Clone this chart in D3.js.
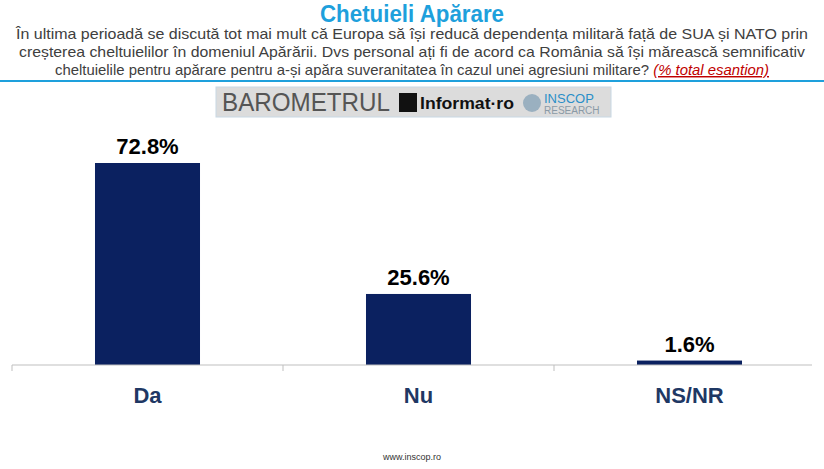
<!DOCTYPE html>
<html><head><meta charset="utf-8">
<script src="https://cdn.jsdelivr.net/npm/d3@7"></script>
<style>body{margin:0;background:#fff;font-family:Arial,"Liberation Sans",sans-serif}</style>
</head><body><div id="chart"></div>
<script>
const categories = ["Da", "Nu", "NS/NR"];
const values = [72.8, 25.6, 1.6];
const subtitle = [
  "În ultima perioadă se discută tot mai mult că Europa să își reducă dependența militară față de SUA și NATO prin",
  "creșterea cheltuielilor în domeniul Apărării. Dvs personal ați fi de acord ca România să își mărească semnificativ",
  "cheltuielile pentru apărare pentru a-și apăra suveranitatea în cazul unei agresiuni militare? "
];
const lineLengths = [792, 786, 714];

const width = 824, height = 469, base = 365;
const svg = d3.select("#chart").append("svg").attr("width", width).attr("height", height);

svg.append("text").attr("x", 412).attr("y", 22).attr("text-anchor", "middle")
  .attr("font-size", 24).attr("font-weight", "bold").attr("fill", "#1ea0dc")
  .attr("textLength", 184).attr("lengthAdjust", "spacingAndGlyphs").text("Chetuieli Apărare");

svg.append("g").selectAll("text").data(subtitle).join("text")
  .attr("x", 412).attr("y", (d, i) => 39 + i * 18).attr("text-anchor", "middle")
  .attr("font-size", 14.5).attr("fill", "#404040")
  .attr("textLength", (d, i) => lineLengths[i])
  .attr("lengthAdjust", "spacingAndGlyphs")
  .text(d => d)
  .filter((d, i) => i == 2).append("tspan").attr("fill", "#c00000")
  .attr("font-style", "italic").attr("text-decoration", "underline").text("(% total esantion)");

svg.append("line").attr("x1", 0).attr("x2", width).attr("y1", 81).attr("y2", 81)
  .attr("stroke", "#1ea0dc").attr("stroke-width", 2);

const logo = svg.append("g");
logo.append("rect").attr("x", 216).attr("y", 87).attr("width", 395).attr("height", 30)
  .attr("fill", "#dcdcdc").attr("stroke", "#c8d8e4");
logo.append("text").attr("x", 222).attr("y", 111).attr("font-size", 25).attr("fill", "#555")
  .attr("textLength", 168).attr("lengthAdjust", "spacingAndGlyphs").text("BAROMETRUL");
logo.append("rect").attr("x", 399).attr("y", 93).attr("width", 18).attr("height", 19).attr("fill", "#111");
logo.append("text").attr("x", 420).attr("y", 109).attr("font-size", 16).attr("font-weight", "bold")
  .attr("fill", "#111").attr("textLength", 94).attr("lengthAdjust", "spacingAndGlyphs").text("Informat·ro");
logo.append("circle").attr("cx", 532).attr("cy", 103).attr("r", 9).attr("fill", "#9ab0c0");
logo.append("text").attr("x", 544).attr("y", 103).attr("font-size", 13).attr("fill", "#2a8fc8").text("INSCOP");
logo.append("text").attr("x", 544).attr("y", 114).attr("font-size", 10).attr("fill", "#8a9aa6").text("RESEARCH");

const x = d3.scaleBand().domain(categories).range([12, 825]).paddingInner(0.6125).paddingOuter(0.30625);
const y = d3.scaleLinear().domain([0, 72.8]).range([base, 163]);

svg.append("g").selectAll("rect").data(values).join("rect")
  .attr("x", (d, i) => x(categories[i])).attr("width", x.bandwidth())
  .attr("y", d => y(d)).attr("height", d => base - y(d)).attr("fill", "#0b2160");

svg.append("g").selectAll("text").data(values).join("text")
  .attr("x", (d, i) => x(categories[i]) + x.bandwidth() / 2).attr("y", d => y(d) - 9)
  .attr("text-anchor", "middle").attr("font-size", 22).attr("font-weight", "bold").attr("fill", "#000")
  .text(d => d.toFixed(1) + "%");

const step = x.step();
const axis = svg.append("g");
axis.append("line").attr("x1", 12).attr("x2", 812).attr("y1", base).attr("y2", base).attr("stroke", "#bfbfbf");
axis.selectAll("line.t").data(d3.range(3)).join("line").attr("class", "t")
  .attr("x1", i => 12 + i * step).attr("x2", i => 12 + i * step)
  .attr("y1", base).attr("y2", base + 6).attr("stroke", "#bfbfbf");
axis.selectAll("text").data(categories).join("text")
  .attr("x", d => x(d) + x.bandwidth() / 2).attr("y", 403).attr("text-anchor", "middle")
  .attr("font-size", 22).attr("font-weight", "bold").attr("fill", "#1f3864").text(d => d);

svg.append("text").attr("x", 412).attr("y", 460).attr("text-anchor", "middle")
  .attr("font-size", 9).attr("fill", "#333").text("www.inscop.ro");
</script></body></html>
